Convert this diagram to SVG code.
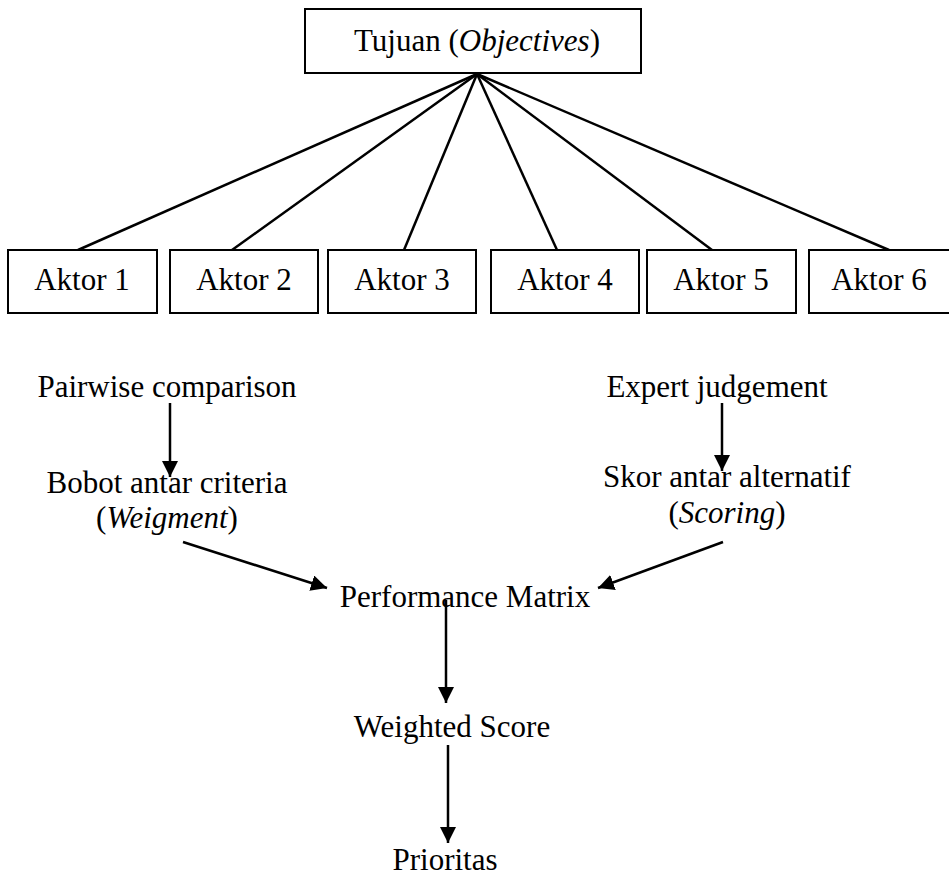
<svg xmlns="http://www.w3.org/2000/svg" width="949" height="877" viewBox="0 0 949 877">
<style>
.box{fill:#fff;stroke:#000;stroke-width:2}
.t{font-family:"Liberation Serif","Times New Roman",serif;font-size:31px;fill:#000;text-anchor:middle}
.it{font-style:italic}
.ln{stroke:#000;stroke-width:2.5;fill:none}
</style>
<defs>
<marker id="ah2" viewBox="0 0 16 16" refX="16" refY="8" markerWidth="16" markerHeight="16" markerUnits="userSpaceOnUse" orient="auto">
<path d="M0,0 L16,8 L0,16 Z" fill="#000"/>
</marker>
</defs>
<g id="connectors">
<line class="ln" x1="477" y1="74" x2="78" y2="250"/>
<line class="ln" x1="477" y1="74" x2="232" y2="250"/>
<line class="ln" x1="477" y1="74" x2="404" y2="250"/>
<line class="ln" x1="477" y1="74" x2="557" y2="250"/>
<line class="ln" x1="477" y1="74" x2="712" y2="250"/>
<line class="ln" x1="477" y1="74" x2="889" y2="250"/>
<line class="ln" x1="170" y1="403" x2="170" y2="477" marker-end="url(#ah2)"/>
<line class="ln" x1="722" y1="403" x2="722" y2="471" marker-end="url(#ah2)"/>
<line class="ln" x1="183" y1="542" x2="327" y2="588" marker-end="url(#ah2)"/>
<line class="ln" x1="723" y1="542" x2="598" y2="588" marker-end="url(#ah2)"/>
<line class="ln" x1="446" y1="600" x2="446" y2="703" marker-end="url(#ah2)"/>
<line class="ln" x1="448" y1="745" x2="448" y2="843" marker-end="url(#ah2)"/>
</g>
<g id="tujuan">
<rect class="box" x="305" y="9" width="336" height="64"/>
<text class="t" x="477" y="51">Tujuan (<tspan class="it">Objectives</tspan>)</text>
</g>
<g id="aktor1"><rect class="box" x="8" y="250" width="149" height="63"/><text class="t" x="82" y="290">Aktor 1</text></g>
<g id="aktor2"><rect class="box" x="170" y="250" width="148" height="63"/><text class="t" x="244" y="290">Aktor 2</text></g>
<g id="aktor3"><rect class="box" x="328" y="250" width="148" height="63"/><text class="t" x="402" y="290">Aktor 3</text></g>
<g id="aktor4"><rect class="box" x="491" y="250" width="148" height="63"/><text class="t" x="565" y="290">Aktor 4</text></g>
<g id="aktor5"><rect class="box" x="647" y="250" width="149" height="63"/><text class="t" x="721" y="290">Aktor 5</text></g>
<g id="aktor6"><rect class="box" x="809" y="250" width="148" height="63"/><text class="t" x="879" y="290">Aktor 6</text></g>
<g id="pairwise"><text class="t" x="167" y="397">Pairwise comparison</text></g>
<g id="bobot"><text class="t" x="167" y="493">Bobot antar criteria</text><text class="t" x="167" y="528">(<tspan class="it">Weigment</tspan>)</text></g>
<g id="expert"><text class="t" x="717" y="397">Expert judgement</text></g>
<g id="skor"><text class="t" x="727" y="487">Skor antar alternatif</text><text class="t" x="727" y="523">(<tspan class="it">Scoring</tspan>)</text></g>
<g id="performance"><text class="t" x="465" y="607">Performance Matrix</text></g>
<g id="weighted"><text class="t" x="452" y="737">Weighted Score</text></g>
<g id="prioritas"><text class="t" x="445" y="870">Prioritas</text></g>
</svg>
